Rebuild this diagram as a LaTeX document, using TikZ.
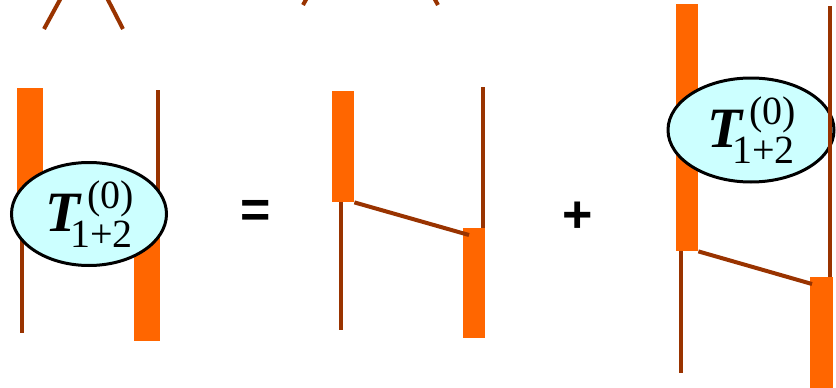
\documentclass[tikz,border=0pt]{standalone}
\usepackage{fontspec}
\setmainfont{Liberation Serif}
\newfontfamily\signfont{Liberation Sans}
\usepackage{tikz}
\usetikzlibrary{positioning, shapes.geometric}

\definecolor{barorange}{RGB}{255,102,0}
\definecolor{legbrown}{RGB}{153,51,0}
\definecolor{blobcyan}{RGB}{204,255,255}

% T^{(0)}_{1+2} written with text fonts
\newcommand{\Tlabel}{%
  \fontsize{57}{60}\selectfont\textbf{\textit{T}}\kern-12pt%
  \rlap{\kern17pt\raisebox{23pt}{\fontsize{40}{40}\selectfont(0)}}%
  \raisebox{-16pt}{\fontsize{40}{40}\selectfont 1+2}}

\begin{document}
\begin{tikzpicture}[
    x=1pt, y=-1pt,
    bar/.style={fill=barorange, inner sep=0pt, anchor=north west},
    leg/.style={draw=legbrown, line width=4pt},
    blob/.style={ellipse, draw=black, line width=3pt, fill=blobcyan, inner sep=0pt,
                 minimum width=155, minimum height=103},
    sign/.style={font=\signfont\bfseries\fontsize{52}{52}\selectfont, inner sep=0pt}
]

\useasboundingbox (0,0) rectangle (836,388);
\clip (0,0) rectangle (836,388);

% ==========================================
% Cut-off lines at the top
\draw[leg] (44,29) -- (62,-4);
\draw[leg] (123,29) -- (106,-4);
\draw[leg] (303,5) -- (308,-4);
\draw[leg] (438,5) -- (433,-4);

% ==========================================
% Left side: the full vertex
\node[bar, minimum width=26, minimum height=126] (barA) at (17,88) {};
\draw[leg] (22,214) -- (22,333);
\draw[leg] (158,90) -- (158,194);
\node[bar, minimum width=26, minimum height=127] (barC) at (134,214) {};
\node[blob] (blobL) at (89,214) {\Tlabel};

\node[sign] (eq) at (256,214) {=};

% ==========================================
% Middle: one exchange
\node[bar, minimum width=22, minimum height=111] (barD) at (332,91) {};
\draw[leg] (341,202) -- (341,330);
\draw[leg] (483,87) -- (483,229);
\node[bar, minimum width=22, minimum height=110] (barE) at (463,228) {};
\draw[leg] (barD.south east) -- ([shift={(6,7)}]barE.north west);

\node[sign] (plus) at (578,217) {+};

% ==========================================
% Right side: exchange followed by the vertex
\node[bar, minimum width=22, minimum height=247] (barF) at (676,4) {};
\draw[leg] (681,251) -- (681,373);
\node[bar, minimum width=23, minimum height=111] (barG) at (810,277) {};
\draw[leg] (barF.south east) -- ([shift={(2,7)}]barG.north west);
\node[blob, minimum width=166, minimum height=104] (blobR) at (751,130) {\Tlabel};
\draw[leg] (830,6) -- (830,277);

\end{tikzpicture}
\end{document}
